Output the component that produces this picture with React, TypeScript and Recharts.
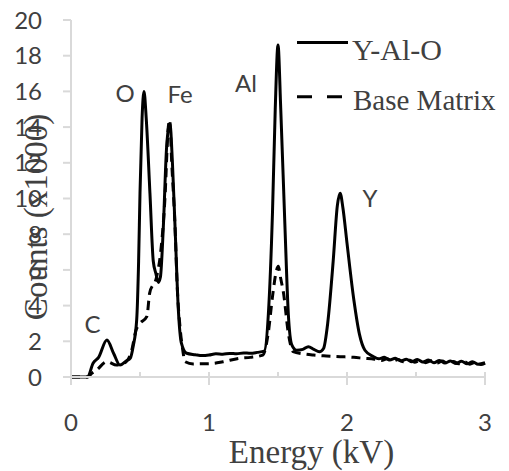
import React from 'react';
import { LineChart, Line, XAxis, YAxis, Legend } from 'recharts';

// Y-Al-O (solid) spectrum
const yAlOEnergy = [0, 0.12, 0.16, 0.2, 0.26, 0.31, 0.355, 0.4, 0.43, 0.45, 0.476, 0.49, 0.5, 0.515, 0.529, 0.545, 0.572, 0.596, 0.615, 0.633, 0.648, 0.669, 0.693, 0.717, 0.735, 0.754, 0.778, 0.8, 0.838, 0.9, 0.95, 1.0, 1.05, 1.1, 1.15, 1.2, 1.25, 1.3, 1.35, 1.4, 1.43, 1.46, 1.48, 1.5, 1.52, 1.55, 1.575, 1.6, 1.635, 1.68, 1.72, 1.76, 1.8, 1.83, 1.86, 1.9, 1.93, 1.95, 1.97, 2.0, 2.05, 2.09, 2.13, 2.19, 2.23, 2.27, 2.31, 2.35, 2.39, 2.43, 2.47, 2.51, 2.55, 2.59, 2.63, 2.67, 2.71, 2.75, 2.79, 2.83, 2.87, 2.91, 2.95, 3.0];
const yAlOCounts = [0, 0, 0.77, 1.1, 2.07, 1.3, 0.67, 0.9, 1.06, 1.7, 3.2, 6.5, 10.3, 14.5, 16.0, 14.5, 10.3, 6.5, 5.8, 5.3, 5.6, 8.4, 12.9, 14.2, 12.0, 8.4, 3.75, 1.9, 1.33, 1.25, 1.2, 1.23, 1.3, 1.28, 1.32, 1.3, 1.35, 1.33, 1.38, 1.45, 3.5, 9.2, 15.0, 18.6, 15.0, 8.5, 3.5, 1.8, 1.5, 1.55, 1.7, 1.55, 1.42, 1.6, 3.0, 6.5, 9.6, 10.3, 9.5, 7.5, 4.3, 2.4, 1.5, 1.15, 1.02, 1.1, 0.95, 1.05, 0.9, 1.0, 0.86, 0.98, 0.84, 0.95, 0.8, 0.92, 0.78, 0.9, 0.76, 0.88, 0.74, 0.86, 0.72, 0.8];

// Base Matrix (dashed) spectrum
const baseEnergy = [0, 0.12, 0.15, 0.186, 0.26, 0.33, 0.4, 0.44, 0.47, 0.5, 0.55, 0.57, 0.62, 0.65, 0.68, 0.705, 0.715, 0.73, 0.754, 0.77, 0.79, 0.81, 0.826, 0.886, 0.95, 1.03, 1.1, 1.22, 1.3, 1.39, 1.43, 1.46, 1.49, 1.502, 1.52, 1.54, 1.575, 1.61, 1.68, 1.756, 1.85, 1.95, 2.05, 2.12, 2.2, 2.25, 2.29, 2.33, 2.37, 2.41, 2.45, 2.49, 2.53, 2.57, 2.61, 2.65, 2.69, 2.73, 2.77, 2.81, 2.85, 2.89, 2.93, 2.97, 3.0];
const baseCounts = [0, 0, 0.2, 0.39, 0.86, 0.67, 0.86, 1.5, 2.6, 3.0, 3.4, 4.7, 5.6, 7.0, 9.9, 14.0, 14.4, 12.0, 8.4, 5.0, 2.8, 1.5, 0.86, 0.73, 0.74, 0.76, 0.85, 1.05, 1.1, 1.23, 2.5, 4.5, 6.0, 6.2, 5.5, 4.7, 2.45, 1.42, 1.3, 1.23, 1.18, 1.14, 1.1, 1.05, 1.0, 0.92, 1.02, 0.88, 0.98, 0.85, 0.96, 0.83, 0.93, 0.8, 0.91, 0.78, 0.89, 0.76, 0.87, 0.74, 0.85, 0.72, 0.83, 0.7, 0.78];

const xTicks = [0, 0.5, 1, 1.5, 2, 2.5, 3];
const yTicks = [0, 2, 4, 6, 8, 10, 12, 14, 16, 18, 20];

const seriesNames = ['Y-Al-O', 'Base Matrix'];
const peakLabels = [
  { text: 'C', x: 84.5, y: 325 },
  { text: 'O', x: 117, y: 94 },
  { text: 'Fe', x: 172, y: 95 },
  { text: 'Al', x: 238, y: 84 },
  { text: 'Y', x: 362, y: 199 },
];

const solidData = yAlOEnergy.map((e, i) => ({ e, v: yAlOCounts[i] }));
const dashedData = baseEnergy.map((e, i) => ({ e, v: baseCounts[i] }));

const AXIS = '#d9d9d9';
const TEXT = '#404040';
const SANS = 'Lato, "Open Sans", sans-serif';
const SERIF = '"Liberation Serif", "Times New Roman", serif';

const XTick = (props: any) => {
  const { x, y, payload } = props;
  const major = Number.isInteger(payload.value);
  return (
    <g>
      <line x1={x} x2={x} y1={y - 5} y2={y + (major ? 8 : 0)} stroke={AXIS} strokeWidth={2} />
      {major && (
        <text x={x} y={y + 54} textAnchor="middle" fontFamily={SANS} fontSize={24} fill={TEXT}>
          {payload.value}
        </text>
      )}
    </g>
  );
};

const LegendContent = () => (
  <svg width={501} height={463} style={{ position: 'absolute', left: 0, top: 0, pointerEvents: 'none' }}>
    <line x1={289} x2={340} y1={34.5} y2={34.5} stroke="#000" strokeWidth={3} />
    <text x={344} y={52} fontFamily={SERIF} fontSize={30} fill={TEXT}>{seriesNames[0]}</text>
    <line x1={289} x2={334} y1={88.7} y2={88.7} stroke="#000" strokeWidth={3} strokeDasharray="15 15" />
    <text x={345} y={102} fontFamily={SERIF} fontSize={29} fill={TEXT}>{seriesNames[1]}</text>
  </svg>
);

export default function App() {
  return (
    <LineChart width={501} height={463} margin={{ top: 12, right: 24, left: 0, bottom: 0 }}>
      <XAxis
        type="number"
        dataKey="e"
        domain={[0, 3]}
        ticks={xTicks}
        height={94}
        tickSize={0}
        tickMargin={0}
        tickLine={false}
        axisLine={{ stroke: AXIS, strokeWidth: 2 }}
        tick={<XTick />}
        allowDuplicatedCategory={false}
      />
      <YAxis
        type="number"
        domain={[0, 20]}
        ticks={yTicks}
        width={63}
        tickSize={8}
        tickMargin={21}
        axisLine={{ stroke: AXIS, strokeWidth: 2 }}
        tickLine={{ stroke: AXIS, strokeWidth: 2 }}
        tick={{ fontFamily: SANS, fontSize: 24, fill: TEXT }}
        interval={0}
      />
      <Legend layout="horizontal" verticalAlign="middle" align="center" content={<LegendContent />}
        wrapperStyle={{ position: 'absolute', left: 0, top: 0, width: 501, height: 463, pointerEvents: 'none' }} />
      <Line data={dashedData} dataKey="v" name={seriesNames[1]} type="monotone" stroke="#000" strokeWidth={3}
        strokeDasharray="9 6" dot={false} isAnimationActive={false} />
      <Line data={solidData} dataKey="v" name={seriesNames[0]} type="monotone" stroke="#000" strokeWidth={3}
        dot={false} isAnimationActive={false} />
      <g>
        {peakLabels.map((p) => (
          <text key={p.text} x={p.x} y={p.y} textAnchor="middle" fontFamily={SANS} fontSize={24} fill={TEXT}>
            {p.text}
          </text>
        ))}
        <text transform="translate(39,209) rotate(-90)" x={0} y={0} textAnchor="middle" fontFamily={SERIF} fontSize={33} fill={TEXT}>
          Counts (x1000)
        </text>
        <text x={303.5} y={455} textAnchor="middle" fontFamily={SERIF} fontSize={33} fill={TEXT}>
          Energy (kV)
        </text>
      </g>
    </LineChart>
  );
}
